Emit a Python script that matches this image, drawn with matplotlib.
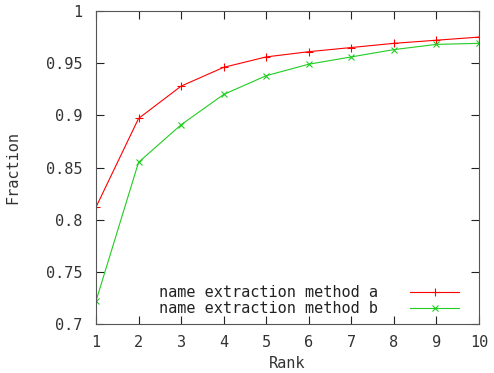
import numpy as np
import matplotlib
matplotlib.use("Agg")
import matplotlib.pyplot as plt

rank = [1, 2, 3, 4, 5, 6, 7, 8, 9, 10]
method_a = [0.812, 0.897, 0.928, 0.946, 0.956, 0.961, 0.965, 0.969, 0.972, 0.975]
method_b = [0.722, 0.855, 0.891, 0.920, 0.938, 0.949, 0.956, 0.963, 0.968, 0.969]
label_a = "name extraction method a"
label_b = "name extraction method b"
yticks = [0.7, 0.75, 0.8, 0.85, 0.9, 0.95, 1.0]
ytick_labels = ["0.7", "0.75", "0.8", "0.85", "0.9", "0.95", "1"]

plt.rcParams['font.family'] = ['DejaVu Sans Mono']
fs = 11

fig = plt.figure(figsize=(4.94, 3.73), dpi=100)
ax = fig.add_axes([96 / 494, 1 - 324 / 373, (479 - 96) / 494, (324 - 11) / 373])

ax.plot(rank, method_a, color='#ff0000', lw=0.8, marker='+', ms=6, mew=0.8, label=label_a)
ax.plot(rank, method_b, color='#22cc22', lw=0.8, marker='x', ms=5, mew=0.8, label=label_b)

ax.set_xlim(1, 10)
ax.set_ylim(0.7, 1.0)
ax.set_xticks(rank)
ax.set_yticks(yticks)
ax.set_yticklabels(ytick_labels)
ax.tick_params(direction='in', top=True, right=True, length=6, width=0.8,
               labelsize=fs, colors='#222222', pad=8)
ax.tick_params(axis='y', pad=10)
for t in ax.get_xticklabels() + ax.get_yticklabels():
    t.set_color('#333333')
for s in ax.spines.values():
    s.set_color('#555555')
    s.set_linewidth(0.8)

ax.set_xlabel("Rank", fontsize=fs, color='#333333', labelpad=4)
ax.set_ylabel("Fraction", fontsize=fs, color='#333333', labelpad=18)

leg = ax.legend(loc='lower right', frameon=False, fontsize=fs, markerfirst=False,
                handlelength=3.2, handletextpad=2.1, borderaxespad=0, borderpad=0,
                labelspacing=0.05, bbox_to_anchor=(0.948, 0.026))
for t in leg.get_texts():
    t.set_color('#222222')

fig.savefig("out.png", dpi=100)
